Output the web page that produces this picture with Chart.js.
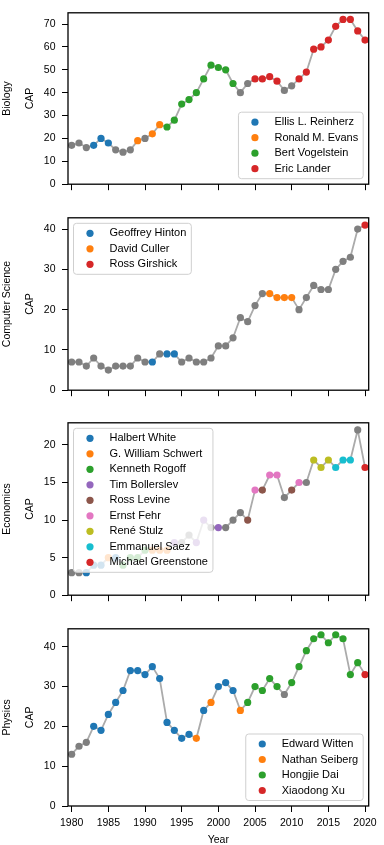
<!DOCTYPE html>
<html>
<head>
<meta charset="utf-8">
<script src="https://cdn.jsdelivr.net/npm/chart.js@4.4.1/dist/chart.umd.min.js"></script>
<style>
  html, body { margin: 0; padding: 0; background: #fff; }
  #wrap { position: relative; width: 384px; height: 845px; overflow: hidden; }
  #wrap canvas { position: absolute; left: 0; }
</style>
</head>
<body>
<div id="wrap">
  <canvas id="bio" width="384" height="197" style="top:0px"></canvas>
  <canvas id="cs" width="384" height="198" style="top:205px"></canvas>
  <canvas id="econ" width="384" height="198" style="top:410px"></canvas>
  <canvas id="phys" width="384" height="229" style="top:616px"></canvas>
</div>
<script>
const years = [1980, 1981, 1982, 1983, 1984, 1985, 1986, 1987, 1988, 1989,
               1990, 1991, 1992, 1993, 1994, 1995, 1996, 1997, 1998, 1999,
               2000, 2001, 2002, 2003, 2004, 2005, 2006, 2007, 2008, 2009,
               2010, 2011, 2012, 2013, 2014, 2015, 2016, 2017, 2018, 2019, 2020];
const yearTicks = [1980, 1985, 1990, 1995, 2000, 2005, 2010, 2015, 2020];

// CAP per year, and who held the top spot (-1 = nobody highlighted)
const bioCap = [17, 18, 16, 17, 20, 18, 15, 14, 15, 19,
                20, 22, 26, 25, 28, 35, 37, 40, 46, 52,
                51, 50, 44, 40, 44, 46, 46, 47, 45, 41,
                43, 46, 49, 59, 60, 63, 69, 72, 72, 67, 63];
const bioWho = [-1, -1, -1, 0, 0, 0, -1, -1, -1, 1,
                -1, 1, 1, 2, 2, 2, 2, 2, 2, 2,
                2, 2, 2, -1, -1, 3, 3, 3, 3, -1,
                -1, 3, 3, 3, 3, 3, 3, 3, 3, 3, 3];
const bioNames = ['Ellis L. Reinherz', 'Ronald M. Evans', 'Bert Vogelstein', 'Eric Lander'];
const bioColors = ['#1f77b4', '#ff7f0e', '#2ca02c', '#d62728'];
const bioTicks = [0, 10, 20, 30, 40, 50, 60, 70];

const csCap = [7, 7, 6, 8, 6, 5, 6, 6, 6, 8,
               7, 7, 9, 9, 9, 7, 8, 7, 7, 8,
               11, 11, 13, 18, 17, 21, 24, 24, 23, 23,
               23, 20, 23, 26, 25, 25, 30, 32, 33, 40, 41];
const csWho = [-1, -1, -1, -1, -1, -1, -1, -1, -1, -1,
               -1, 0, -1, 0, 0, -1, -1, -1, -1, -1,
               -1, -1, -1, -1, -1, -1, -1, 1, 1, 1,
               1, -1, -1, -1, -1, -1, -1, -1, -1, -1, 2];
const csNames = ['Geoffrey Hinton', 'David Culler', 'Ross Girshick'];
const csColors = ['#1f77b4', '#ff7f0e', '#d62728'];
const csTicks = [0, 10, 20, 30, 40];

const econCap = [3, 3, 3, 4, 4, 5, 5, 4, 5, 5,
                 6, 6, 6, 6, 7, 7, 8, 7, 10, 9,
                 9, 9, 10, 11, 10, 14, 14, 16, 16, 13,
                 14, 15, 15, 18, 17, 18, 17, 18, 18, 22, 17];
const econWho = [-1, -1, 0, 0, 0, 1, 0, 2, 2, 2,
                 2, 1, 1, 1, 3, -1, -1, 3, 3, -1,
                 3, -1, -1, -1, 4, 5, 4, 5, 5, -1,
                 4, 5, -1, 6, 6, 6, 7, 7, 7, -1, 8];
const econNames = ['Halbert White', 'G. William Schwert', 'Kenneth Rogoff', 'Tim Bollerslev',
                   'Ross Levine', 'Ernst Fehr', 'René Stulz', 'Emmanuel Saez', 'Michael Greenstone'];
const econColors = ['#1f77b4', '#ff7f0e', '#2ca02c', '#9467bd', '#8c564b',
                    '#e377c2', '#bcbd22', '#17becf', '#d62728'];
const econTicks = [0, 5, 10, 15, 20];

const physCap = [13, 15, 16, 20, 19, 23, 26, 29, 34, 34,
                 33, 35, 32, 21, 19, 17, 18, 17, 24, 26,
                 30, 31, 29, 24, 26, 30, 29, 32, 30, 28,
                 31, 35, 39, 42, 43, 41, 43, 42, 33, 36, 33];
const physWho = [-1, -1, -1, 0, 0, 0, 0, 0, 0, 0,
                 0, 0, 0, 0, 0, 0, 0, 1, 0, 1,
                 0, 0, 0, 1, 2, 2, 2, 2, 2, -1,
                 2, 2, 2, 2, 2, 2, 2, 2, 2, 2, 3];
const physNames = ['Edward Witten', 'Nathan Seiberg', 'Hongjie Dai', 'Xiaodong Xu'];
const physColors = ['#1f77b4', '#ff7f0e', '#2ca02c', '#d62728'];
const physTicks = [0, 10, 20, 30, 40];

const FONT = '"Liberation Sans", Arial, Helvetica, sans-serif';
const GRAY_DOT = '#7f7f7f';

// box around the axes
const frame = {
  id: 'frame',
  afterDatasetsDraw(chart) {
    const { ctx, chartArea: a } = chart;
    ctx.save();
    ctx.strokeStyle = '#000';
    ctx.lineWidth = 1.3;
    ctx.strokeRect(a.left, a.top, a.right - a.left, a.bottom - a.top);
    ctx.restore();
  }
};

// matplotlib-like legend inside the axes
const innerLegend = {
  id: 'innerLegend',
  afterDatasetsDraw(chart, args, opts) {
    if (!opts.names) return;
    const { ctx, chartArea: a } = chart;
    ctx.save();
    ctx.font = '11px ' + FONT;
    const textW = Math.max(...opts.names.map(n => ctx.measureText(n).width));
    const w = 36 + textW + 5;
    const h = 20 + (opts.names.length - 1) * 15.5;
    const x = opts.corner === 'br' ? a.right - 5.5 - w : a.left + 5.5;
    const y = opts.corner === 'br' ? a.bottom - 5.5 - h : a.top + 5.5;
    ctx.beginPath();
    ctx.roundRect(x, y, w, h, 3);
    ctx.fillStyle = 'rgba(255,255,255,0.8)';
    ctx.fill();
    ctx.strokeStyle = '#cfcfcf';
    ctx.lineWidth = 1;
    ctx.stroke();
    ctx.textBaseline = 'middle';
    opts.names.forEach((n, i) => {
      const cy = y + 10 + i * 15.5;
      ctx.beginPath();
      ctx.arc(x + 16.5, cy, 3.6, 0, Math.PI * 2);
      ctx.fillStyle = opts.colors[i];
      ctx.fill();
      ctx.fillStyle = '#000';
      ctx.fillText(n, x + 36, cy);
    });
    ctx.restore();
  }
};

function makePanel(id, field, cap, who, names, colors, yTicks, yMax, corner, bottomAxis) {
  const pts = years.map((yr, i) => ({ x: yr, y: cap[i] }));
  const dotColors = who.map(w => (w < 0 ? GRAY_DOT : colors[w]));
  const xHeight = bottomAxis ? 39 : 8;

  new Chart(document.getElementById(id), {
    type: 'line',
    data: {
      datasets: [{
        data: pts,
        borderColor: '#ababab',
        borderWidth: 1.8,
        pointRadius: 3.6,
        pointBorderWidth: 0,
        pointBackgroundColor: dotColors,
        pointBorderColor: dotColors,
        tension: 0
      }]
    },
    options: {
      responsive: false,
      animation: false,
      devicePixelRatio: 1,
      layout: { padding: { left: 0, right: 15.3, top: 3, bottom: 0 } },
      plugins: {
        legend: { display: false },
        tooltip: { enabled: false },
        innerLegend: { names, colors, corner }
      },
      scales: {
        x: {
          type: 'linear',
          min: 1979.5,
          max: 2020.5,
          afterBuildTicks: s => { s.ticks = yearTicks.map(v => ({ value: v })); },
          afterFit: s => { s.height = xHeight; },
          grid: { drawOnChartArea: false, drawTicks: true, tickLength: 6, color: '#000', lineWidth: 1 },
          border: { display: false },
          ticks: {
            display: bottomAxis,
            padding: 5,
            color: '#000',
            font: { family: FONT, size: 10.5 },
            maxRotation: 0,
            callback: v => String(v)
          },
          title: {
            display: bottomAxis,
            text: 'Year',
            color: '#000',
            font: { family: FONT, size: 10.5, lineHeight: 1.15 },
            padding: { top: 0, bottom: -1 }
          }
        },
        y: {
          min: 0,
          max: yMax,
          afterBuildTicks: s => { s.ticks = yTicks.map(v => ({ value: v })); },
          afterFit: s => { s.width = 68; },
          grid: { drawOnChartArea: false, drawTicks: true, tickLength: 6, color: '#000', lineWidth: 1 },
          border: { display: false },
          ticks: {
            padding: 6.5,
            color: '#000',
            font: { family: FONT, size: 10.5 }
          },
          title: {
            display: true,
            text: [field, 'CAP'],
            color: '#000',
            font: { family: FONT, size: 10.5, lineHeight: 2.14 },
            padding: { top: -3.75, bottom: 0 }
          }
        }
      }
    },
    plugins: [frame, innerLegend]
  });
}

makePanel('bio', 'Biology', bioCap, bioWho, bioNames, bioColors, bioTicks, 74.9, 'br', false);
makePanel('cs', 'Computer Science', csCap, csWho, csNames, csColors, csTicks, 42.8, 'tl', false);
makePanel('econ', 'Economics', econCap, econWho, econNames, econColors, econTicks, 22.95, 'tl', false);
makePanel('phys', 'Physics', physCap, physWho, physNames, physColors, physTicks, 44.5, 'br', true);
</script>
</body>
</html>
